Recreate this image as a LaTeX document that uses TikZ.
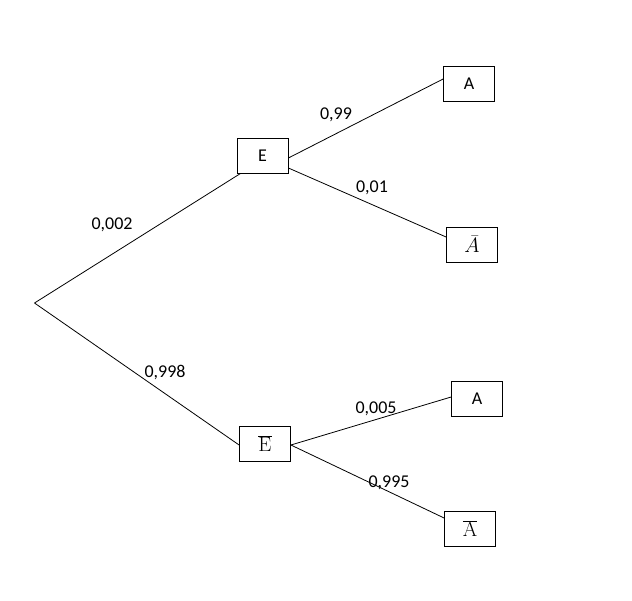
\documentclass[tikz,border=0pt]{standalone}
\usepackage[no-math]{fontspec}
\setmainfont{Carlito}
\begin{document}
\begin{tikzpicture}[x=1pt,y=-1pt,
  box/.style={draw,line width=0.8pt,minimum width=51pt,minimum height=35pt,inner sep=0pt,font=\fontsize{18}{21}\selectfont},
  mbox/.style={box,font=\fontsize{20}{24}\selectfont},
  branch/.style={line width=0.8pt},
  prob/.style={font=\fontsize{18}{21}\selectfont,inner sep=0pt}]
\useasboundingbox (0,0) rectangle (632,600);
\coordinate (R) at (34.5,303);
\node[box] (E) at (262.5,155.5) {E};
\node[box] (A1) at (469,84) {A};
\node[mbox] (NA1) at (472,244.5) {$\bar{A}$};
\node[mbox] (NE) at (265,443.5) {$\overline{\mathrm{E}}$};
\node[box] (A2) at (477,398.5) {A};
\node[mbox] (NA2) at (470,528.5) {$\overline{\mathrm{A}}$};
\draw[branch] (R) -- ([xshift=4pt]E.south west);
\draw[branch] (R) -- ([yshift=-1.5pt]NE.west);
\draw[branch] ([yshift=-2.5pt]E.east) -- ([yshift=5pt]A1.west);
\draw[branch] ([yshift=-12.5pt]E.east) -- ([yshift=7.5pt]NA1.west);
\draw[branch] ([yshift=-1.5pt]NE.east) -- ([yshift=1.5pt]A2.west);
\draw[branch] ([yshift=-1.5pt]NE.east) -- ([yshift=10.5pt]NA2.west);
\node[prob] (p1) at (112,225) {0,002};
\node[prob] (p2) at (165,372) {0,998};
\node[prob] (p3) at (336,115) {0,99};
\node[prob] (p4) at (372,188) {0,01};
\node[prob] (p5) at (376,409) {0,005};
\node[prob] (p6) at (389,483) {0,995};
\end{tikzpicture}
\end{document}
